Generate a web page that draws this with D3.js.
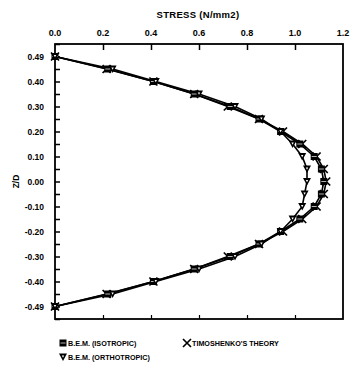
<!DOCTYPE html>
<html><head><meta charset="utf-8">
<script src="https://cdn.jsdelivr.net/npm/d3@7"></script>
<style>body{margin:0;background:#fff}svg{display:block}text{font-family:"Liberation Sans",Arial,sans-serif;fill:#000}</style>
</head><body><svg id="c" width="353" height="374"></svg>
<script>
const zD = [0.5,0.45,0.40,0.35,0.30,0.25,0.20,0.15,0.10,0.05,0.00,-0.05,-0.10,-0.15,-0.20,-0.25,-0.30,-0.35,-0.40,-0.45,-0.5];
const isotropic = [0,0.22,0.41,0.58,0.73,0.85,0.94,1.02,1.08,1.11,1.12,1.11,1.08,1.02,0.94,0.85,0.73,0.58,0.41,0.22,0];
const orthotropic = [0,0.24,0.42,0.60,0.75,0.86,0.94,0.99,1.03,1.05,1.05,1.04,1.03,0.99,0.94,0.86,0.75,0.60,0.42,0.24,0];
const timoshenko = [0,0.215,0.41,0.58,0.72,0.85,0.95,1.03,1.09,1.12,1.13,1.12,1.09,1.03,0.95,0.85,0.72,0.58,0.41,0.215,0];
const xTicks = [0,0.2,0.4,0.6,0.8,1.0,1.2];
const xTickLabels = ["0.0","0.2","0.4","0.6","0.8","1.0","1.2"];
const yTicks = [0.5,0.4,0.3,0.2,0.1,0,-0.1,-0.2,-0.3,-0.4,-0.5];
const yTickLabels = ["0.49","0.40","0.30","0.20","0.10","0.00","-0.10","-0.20","-0.30","-0.40","-0.49"];
const yMinor = d3.range(-0.55,0.551,0.05).map(v=>+v.toFixed(2));

(function(){
const svg = d3.select("#c");
const L=55,R=343,T=44,B=319;
const x = d3.scaleLinear().domain([0,1.2]).range([L,R]);
const y = d3.scaleLinear().domain([-0.55,0.55]).range([B,T]);

svg.append("rect").attr("x",L).attr("y",T).attr("width",R-L).attr("height",B-T)
  .attr("fill","none").attr("stroke","#000").attr("stroke-width",1.8);

const topAx = svg.append("g").attr("transform",`translate(0,${T})`)
  .call(d3.axisBottom(x).tickValues(xTicks.slice(1,-1)).tickSize(6).tickFormat(""));
topAx.select(".domain").remove();
topAx.selectAll("line").attr("stroke-width",1.5);
svg.selectAll(".xl").data(xTicks).enter().append("text")
  .attr("x",(d)=>x(d)).attr("y",36).attr("text-anchor","middle")
  .style("font-size","9px").style("font-weight","bold").text((d,i)=>xTickLabels[i]);

const botAx = svg.append("g").attr("transform",`translate(0,${B})`)
  .call(d3.axisTop(x).tickValues(xTicks.slice(1,-1)).tickSize(4).tickFormat(""));
botAx.select(".domain").remove();
botAx.selectAll("line").attr("stroke-width",1.2);

const leftAx = svg.append("g").attr("transform",`translate(${L},0)`)
  .call(d3.axisRight(y).tickValues(yMinor).tickSize(5).tickFormat(""));
leftAx.select(".domain").remove();
leftAx.selectAll("line").attr("stroke-width",1.5);
svg.selectAll(".yl").data(yTicks).enter().append("text")
  .attr("x",44).attr("y",d=>y(d)+3).attr("text-anchor","end")
  .style("font-size","8.5px").style("font-weight","bold").text((d,i)=>yTickLabels[i]);

svg.append("text").attr("x",198).attr("y",18).attr("text-anchor","middle")
  .style("font-size","9.5px").style("font-weight","bold").style("letter-spacing","0.3px").text("STRESS (N/mm2)");
svg.append("text").attr("transform",`translate(19,${y(0)}) rotate(-90)`).attr("text-anchor","middle")
  .style("font-size","8.5px").style("font-weight","bold").text("Z/D");

const line = d3.line().x(d=>x(d[0])).y(d=>y(d[1]));
const series = [
  {vals:timoshenko, m:"x"},
  {vals:isotropic, m:"sq"},
  {vals:orthotropic, m:"tri"}
];
function marker(g,type,cx,cy){
  if(type==="sq"){
    g.append("rect").attr("x",cx-3.5).attr("y",cy-3.5).attr("width",7).attr("height",7).attr("fill","#000");
    g.append("line").attr("x1",cx-2.5).attr("x2",cx+2.5).attr("y1",cy).attr("y2",cy).attr("stroke","#fff").attr("stroke-width",0.7);
  } else if(type==="tri"){
    g.append("path").attr("d",`M${cx-4},${cy-3.5}L${cx+4},${cy-3.5}L${cx},${cy+4}Z`).attr("fill","#000");
    g.append("path").attr("d",`M${cx-1.2},${cy-1.6}L${cx+1.2},${cy-1.6}L${cx},${cy+0.8}Z`).attr("fill","#fff");
  } else {
    g.append("path").attr("d",`M${cx-4},${cy-4}L${cx+4},${cy+4}M${cx+4},${cy-4}L${cx-4},${cy+4}`)
      .attr("stroke","#000").attr("stroke-width",1.7);
  }
}
series.forEach(s=>{
  const pts = s.vals.map((v,i)=>[v,zD[i]]);
  svg.append("path").attr("d",line(pts)).attr("fill","none").attr("stroke","#000").attr("stroke-width",1.6);
});
series.forEach(s=>{
  const g = svg.append("g");
  s.vals.forEach((v,i)=>marker(g,s.m,x(v),y(zD[i])));
});

const lg = svg.append("g");
const items = [
  {m:"sq",t:"B.E.M. (ISOTROPIC)",x:63,y:343},
  {m:"x",t:"TIMOSHENKO'S THEORY",x:187,y:343},
  {m:"tri",t:"B.E.M. (ORTHOTROPIC)",x:63,y:357}
];
items.forEach(it=>{
  marker(lg,it.m,it.x,it.y);
  lg.append("text").attr("x",it.x+5).attr("y",it.y+3).style("font-size","7.2px").style("font-weight","bold").text(it.t);
});
})();
</script></body></html>
